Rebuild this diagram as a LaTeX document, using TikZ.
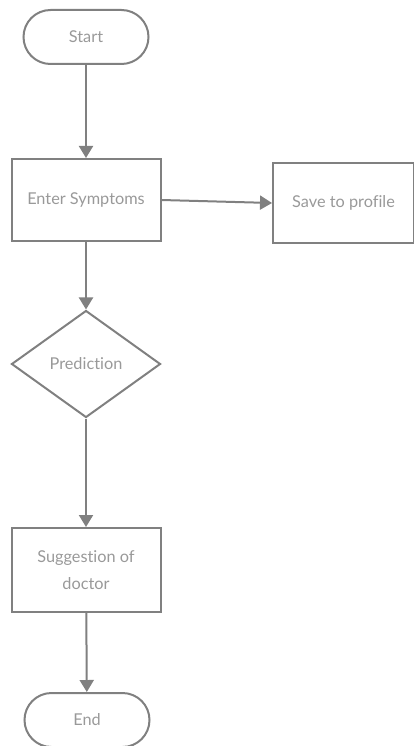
\documentclass[tikz,border=0pt]{standalone}
\usepackage{fontspec}
\setmainfont{Lato}[Ligatures={NoCommon}]
\usetikzlibrary{shapes.geometric,shapes.misc,arrows.meta}
\definecolor{linec}{HTML}{808080}
\definecolor{textc}{HTML}{999999}
\tikzset{
  base/.style={draw=linec, line width=2pt, text=textc, font=\fontsize{16.3}{19}\selectfont, align=center, inner sep=0pt},
  term/.style={base, rounded rectangle, minimum width=125pt, minimum height=54pt},
  procbox/.style={base, rectangle, minimum width=149pt, minimum height=82pt},
  decide/.style={base, diamond, minimum width=149pt, minimum height=107pt, aspect=1.4},
  conn/.style={draw=linec, line width=2pt, -{Triangle[length=12pt,width=14pt]}}
}
\begin{document}
\begin{tikzpicture}[x=1pt,y=-1pt]
\useasboundingbox (0,0) rectangle (414,746);
\node[term] (start) at (86,37) {Start};
\node[procbox] (enter) at (86,200) {Enter Symptoms};
\node[procbox, minimum width=141pt, minimum height=80pt] (save) at (343.5,203) {Save to profile};
\node[decide] (pred) at (86,364) {Prediction};
\node[procbox, minimum height=84pt] (sugg) at (86,570) {Suggestion of\\[8pt]doctor};
\node[term] (end) at (87,720) {End};
\draw[conn] (start) -- (enter);
\draw[conn] (enter.east) -- (save.west);
\draw[conn] (enter) -- (pred);
\draw[conn] (pred) -- (sugg);
\draw[conn] (sugg) -- (end);
\end{tikzpicture}
\end{document}
